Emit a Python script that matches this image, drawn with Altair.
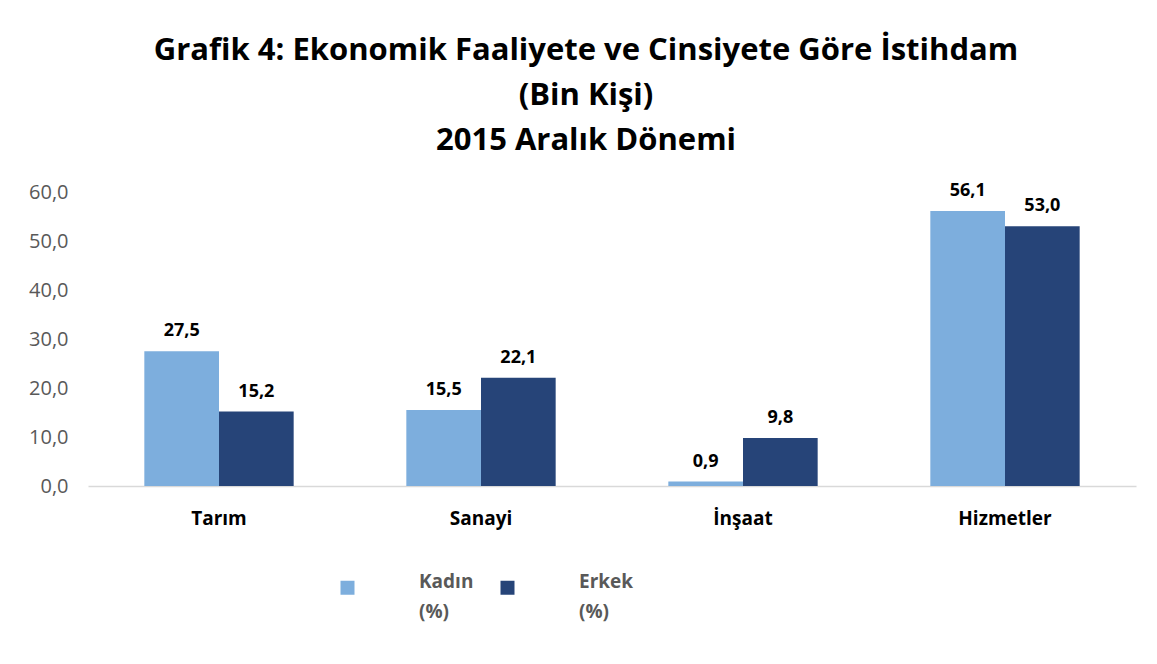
import altair as alt
import pandas as pd

categories = ["Tarım", "Sanayi", "İnşaat", "Hizmetler"]
series = ["Kadın (%)", "Erkek (%)"]
kadin = [27.5, 15.5, 0.9, 56.1]
erkek = [15.2, 22.1, 9.8, 53.0]
colors = ["#7daedd", "#264478"]

rows = []
for c, k, e in zip(categories, kadin, erkek):
    rows.append({"cat": c, "series": series[0], "value": k})
    rows.append({"cat": c, "series": series[1], "value": e})
df = pd.DataFrame(rows)
df["label"] = df["value"].map(lambda v: f"{v:.1f}".replace(".", ","))

FONT = "Open Sans"

x = alt.X("cat:N", sort=categories, title=None,
          scale=alt.Scale(paddingInner=0.43, paddingOuter=0.215),
          axis=alt.Axis(labelAngle=0, labelFont=FONT, labelFontSize=19, labelFontWeight="bold",
                        labelColor="#000000", labelPadding=23, ticks=False,
                        domainColor="#d9d9d9", domainWidth=1.5))
xo = alt.XOffset("series:N", sort=series, scale=alt.Scale(paddingInner=0, paddingOuter=0))
y = alt.Y("value:Q", title=None,
          scale=alt.Scale(domain=[0, 60], nice=False),
          axis=alt.Axis(values=[0, 10, 20, 30, 40, 50, 60],
                        labelExpr="replace(format(datum.value, '.1f'), '.', ',')",
                        labelFont=FONT, labelFontSize=20, labelColor="#595959", labelPadding=20,
                        ticks=False, domain=False, grid=False))

bars = alt.Chart(df).mark_bar().encode(
    x=x, xOffset=xo, y=y,
    color=alt.Color("series:N", sort=series, scale=alt.Scale(domain=series, range=colors),
                    legend=alt.Legend(title=None, orient="none", legendX=250, legendY=386,
                                      direction="horizontal", columns=2, columnPadding=24,
                                      symbolType="square", symbolSize=196, symbolStrokeWidth=0,
                                      labelFont=FONT, labelFontSize=19, labelFontWeight="bold",
                                      labelColor="#595959", labelOffset=62,
                                      labelExpr="split(datum.label, ' ')", labelBaseline="alphabetic"))
)

text = alt.Chart(df).mark_text(dy=-11, baseline="bottom", font=FONT, fontSize=18, fontWeight="bold",
                               color="#000000").encode(
    x=x, xOffset=xo, y=y, text="label:N")

chart = (bars + text).properties(
    width=1048, height=294,
    padding={"left": 20, "top": 27, "right": 5, "bottom": 5},
    title=alt.TitleParams(
        text=["Grafik 4: Ekonomik Faaliyete ve Cinsiyete Göre İstihdam", "(Bin Kişi)", "2015 Aralık Dönemi"],
        font=FONT, fontSize=31, fontWeight="bold", color="#000000",
        anchor="middle", lineHeight=45, offset=25, dx=-26),
).configure(
    background="white",
    view=alt.ViewConfig(stroke=None),
    style={"guide-label": {"lineHeight": 30}},
)

chart.save("out.html", embed_options={"renderer": "svg", "actions": False})
